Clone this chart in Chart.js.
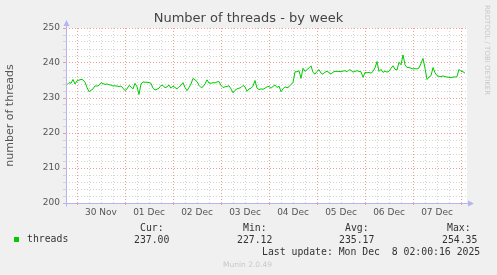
<!DOCTYPE html>
<html>
<head>
<meta charset="utf-8">
<script src="https://cdn.jsdelivr.net/npm/chart.js@4.4.1/dist/chart.umd.min.js"></script>
<style>
  html, body { margin: 0; padding: 0; background: #f0f0f0; }
  #wrap { position: relative; width: 497px; height: 275px; overflow: hidden; }
  #chart { position: absolute; left: 0; top: 0; }
  .t { position: absolute; white-space: pre; line-height: 1; }
  .mono { font-family: "DejaVu Sans Mono", monospace; font-size: 9.8px; color: #333; }
  #title { left: 0; width: 497px; top: 10px; text-align: center; font: 13px "DejaVu Sans", sans-serif; color: #444; }
  #swatch { position: absolute; left: 14px; top: 237px; width: 5px; height: 5px; background: #00cc00; }
  #munin { left: 223px; top: 260px; font: 7.5px "DejaVu Sans", sans-serif; color: #c8c8c8; }
  #rrd { left: 483px; top: 5px; writing-mode: vertical-rl; font: 7px "DejaVu Sans", sans-serif; color: #c8c8c8; }
</style>
</head>
<body>
<div id="wrap">
  <canvas id="chart" width="497" height="275"></canvas>
  <div class="t" id="title">Number of threads - by week</div>
  <div id="swatch"></div>
  <div class="t mono" style="left:27px; top:234px;">threads</div>
  <div class="t mono" style="left:140px; top:223px;">Cur:</div>
  <div class="t mono" style="left:134px; top:234.5px;">237.00</div>
  <div class="t mono" style="left:243px; top:223px;">Min:</div>
  <div class="t mono" style="left:237px; top:234.5px;">227.12</div>
  <div class="t mono" style="left:345px; top:223px;">Avg:</div>
  <div class="t mono" style="left:339px; top:234.5px;">235.17</div>
  <div class="t mono" style="left:447px; top:223px;">Max:</div>
  <div class="t mono" style="left:442px; top:234.5px;">254.35</div>
  <div class="t mono" style="left:262px; top:246.5px;">Last update: Mon Dec  8 02:00:16 2025</div>
  <div class="t" id="munin">Munin 2.0.49</div>
  <div class="t" id="rrd">RRDTOOL / TOBI OETIKER</div>
</div>
<script>
// hours are counted from 30 Nov 00:00, one sample per hour
const dayLabels = ["30 Nov", "01 Dec", "02 Dec", "03 Dec", "04 Dec", "05 Dec", "06 Dec", "07 Dec"];
const firstHour = -5;
const threads = [
  233.8, 234.4, 234.2, 235.3, 234.0,
  234.9, 235.1, 235.3, 235.2, 234.5, 233.0, 231.8, 232.2, 232.6, 233.5, 233.4, 233.6,
  234.4, 234.1, 233.9, 234.0, 233.8, 233.7, 233.4, 233.5, 233.4, 233.3, 233.4, 232.8,
  232.1, 232.6, 233.6, 233.2, 232.6, 234.2, 233.2, 231.0, 234.0, 234.6, 234.5, 234.5,
  234.4, 234.2, 232.8, 232.3, 232.5, 232.8, 233.6, 233.6, 232.9, 233.2, 233.7, 232.8,
  233.4, 233.0, 232.6, 233.2, 233.6, 234.4, 233.0, 232.1, 233.0, 234.0, 235.6, 235.2,
  234.7, 233.6, 233.0, 233.2, 234.0, 235.2, 234.3, 234.2, 234.4, 234.3, 234.6, 234.7,
  233.6, 233.0, 233.2, 233.3, 233.5, 232.6, 231.5, 232.2, 232.6, 232.8, 233.0, 233.6,
  233.2, 231.9, 232.6, 232.8, 233.4, 235.0, 232.8, 232.4, 232.6, 232.5, 232.8, 233.2,
  233.3, 232.8, 233.3, 233.7, 233.0, 233.4, 231.8, 232.6, 233.2, 232.9, 233.2, 233.9,
  234.4, 237.5, 237.5, 237.8, 235.6, 238.5, 237.6, 238.1, 238.6, 239.2, 237.3, 236.8,
  237.6, 238.1, 237.1, 236.8, 237.4, 237.6, 237.3, 236.8, 237.4, 237.6, 237.6, 237.6,
  237.5, 237.7, 237.8, 237.5, 238.1, 237.9, 237.4, 237.6, 237.8, 237.6, 237.5, 235.9,
  237.3, 237.2, 237.3, 237.1, 237.6, 238.6, 240.4, 237.6, 238.2, 237.3, 237.7, 237.4,
  237.6, 238.5, 239.2, 238.2, 238.0, 240.2, 239.5, 242.3, 239.5, 238.7, 238.7, 238.5,
  238.3, 238.4, 238.3, 238.6, 239.9, 241.3, 238.5, 235.3, 236.0, 236.4, 238.7, 237.2,
  236.4, 236.2, 236.1, 236.3, 236.1, 236.0, 235.9, 235.8, 236.0, 236.0, 236.1, 238.2,
  237.6, 237.5, 237.1
];
const yMin = 200, yMax = 250;

const points = threads.map((v, i) => ({ x: firstHour + i, y: v }));
const gridHours = [];
for (let h = 0; h <= dayLabels.length * 24; h += 6) gridHours.push(h);
const gridValues = [];
for (let v = yMin; v <= yMax; v += 2) gridValues.push(v);

const majorColor = "#f29a9a";
const minorColor = "#d4d4d4";
const axisColor = "#b4b4f0";
const font = { family: "DejaVu Sans", size: 9 };

const isDay = c => c.tick && Math.round(c.tick.value) % 24 === 0;

// white plot area + munin style axis arrows
const muninFrame = {
  id: "muninFrame",
  beforeDraw(chart) {
    const { ctx, chartArea: a } = chart;
    ctx.save();
    ctx.fillStyle = "#ffffff";
    ctx.fillRect(a.left, a.top, a.right - a.left, a.bottom - a.top);
    ctx.restore();
  },
  afterDraw(chart) {
    const { ctx, chartArea: a } = chart;
    const x0 = Math.round(a.left) + 0.5, y0 = Math.round(a.bottom) + 0.5;
    ctx.save();
    ctx.strokeStyle = axisColor;
    ctx.fillStyle = axisColor;
    ctx.lineWidth = 1;
    ctx.beginPath();
    ctx.moveTo(x0, y0 + 3);
    ctx.lineTo(x0, a.top - 4);
    ctx.moveTo(x0 - 3, y0);
    ctx.lineTo(a.right + 4, y0);
    ctx.stroke();
    ctx.beginPath();
    ctx.moveTo(x0, a.top - 8);
    ctx.lineTo(x0 - 3, a.top - 2);
    ctx.lineTo(x0 + 3, a.top - 2);
    ctx.closePath();
    ctx.fill();
    ctx.beginPath();
    ctx.moveTo(a.right + 7, y0);
    ctx.lineTo(a.right + 1, y0 - 3);
    ctx.lineTo(a.right + 1, y0 + 3);
    ctx.closePath();
    ctx.fill();
    ctx.restore();
  }
};

new Chart(document.getElementById("chart"), {
  type: "line",
  data: {
    datasets: [{
      label: "threads",
      data: points,
      borderColor: "#00cc00",
      borderWidth: 1,
      pointRadius: 0,
      tension: 0,
      fill: false
    }]
  },
  options: {
    responsive: false,
    animation: false,
    devicePixelRatio: 1,
    layout: { padding: { top: 28, right: 30, bottom: 52, left: 0 } },
    plugins: {
      legend: { display: false },
      tooltip: { enabled: false }
    },
    scales: {
      x: {
        type: "linear",
        min: -5.5,
        max: 195,
        afterBuildTicks(scale) {
          scale.ticks = gridHours.map(v => ({ value: v }));
        },
        afterFit(scale) { scale.height = 20; },
        ticks: {
          autoSkip: false,
          maxRotation: 0,
          padding: 2,
          color: "#555",
          font: font,
          callback: v => (v % 24 === 12 ? dayLabels[(v - 12) / 24] : "")
        },
        grid: {
          color: c => (isDay(c) ? majorColor : minorColor),
          tickLength: 2,
          tickColor: c => (isDay(c) ? majorColor : "rgba(0,0,0,0)")
        },
        border: { display: false, dash: [1, 2] }
      },
      y: {
        min: yMin,
        max: yMax,
        afterBuildTicks(scale) {
          scale.ticks = gridValues.map(v => ({ value: v }));
        },
        afterFit(scale) { scale.width = 66; },
        ticks: {
          autoSkip: false,
          padding: 3,
          color: "#555",
          font: font,
          callback: v => (v % 10 === 0 ? v : "")
        },
        grid: {
          color: c => (c.tick && c.tick.value % 10 === 0 ? majorColor : minorColor),
          tickLength: 3
        },
        border: { display: false, dash: [1, 2] },
        title: {
          display: true,
          text: "number of threads",
          color: "#555",
          font: { family: "DejaVu Sans", size: 11 },
          padding: { top: 3.5, bottom: 0 }
        }
      }
    }
  },
  plugins: [muninFrame]
});
</script>
</body>
</html>
